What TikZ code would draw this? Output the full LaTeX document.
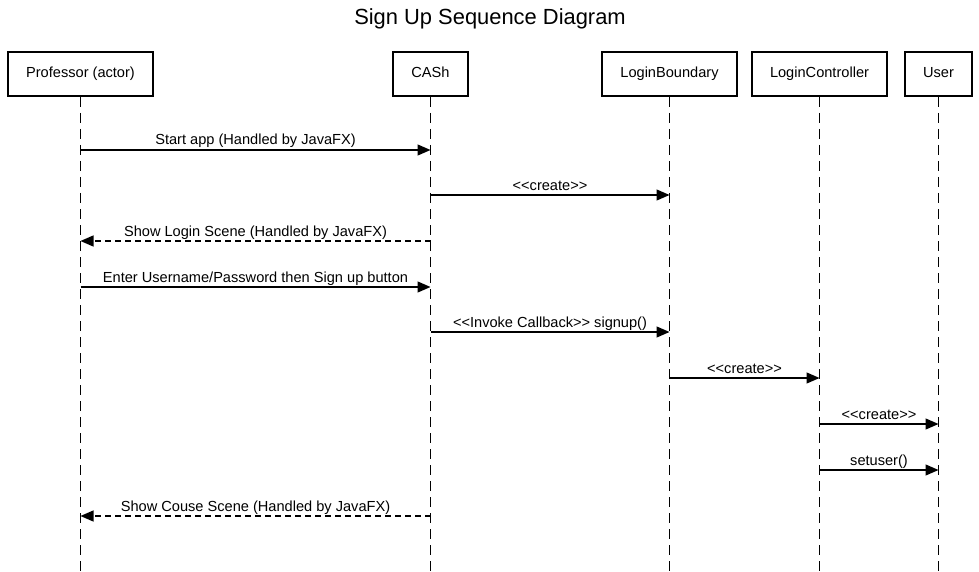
\documentclass[tikz,border=0pt]{standalone}
\usepackage{fontspec}
\setmainfont{Liberation Sans}[Ligatures=TeXOff]
\usepackage{tikz}
\usetikzlibrary{arrows.meta, positioning, calc}
\tikzstyle{actor} = [rectangle, draw=black, line width=2pt, minimum height=44pt, text centered, inner sep=0pt, text height=10.5pt, text depth=2.5pt, font=\fontsize{14.6}{17}\selectfont]
\tikzstyle{lifeline} = [line width=1pt, dash pattern=on 10pt off 6pt]
\tikzstyle{msg} = [line width=1.3pt, -{Triangle[length=13pt, width=11pt]}]
\tikzstyle{reply} = [msg, dash pattern=on 6pt off 4pt]
\tikzstyle{lbl} = [midway, anchor=base, yshift=5pt, inner sep=0pt, font=\fontsize{14.6}{17}\selectfont]

\begin{document}
\begin{tikzpicture}[x=1pt, y=-1pt]
            \useasboundingbox (0,0) rectangle (979,572);

            \node[font=\fontsize{21.9}{26}\selectfont] (title) at (490,18.5) {Sign Up Sequence Diagram};

            \node[actor, minimum width=145pt] (prof) at (80.5,74) {Professor (actor)};
            \node[actor, minimum width=75pt] (cash) at (430.5,74) {CASh};
            \node[actor, minimum width=135pt] (lb) at (669.5,74) {LoginBoundary};
            \node[actor, minimum width=135pt] (lc) at (819.5,74) {LoginController};
            \node[actor, minimum width=67pt] (user) at (938.5,74) {User};

            % lifelines
            \foreach \who in {prof, cash, lb, lc, user} {
                \coordinate (\who-end) at (\who |- 0,572);
                \draw[lifeline] (\who.south) -- (\who-end);
            }

            % messages
            \draw[msg] (prof |- 0,150) -- (cash |- 0,150) node[lbl] {Start app (Handled by JavaFX)};
            \draw[msg] (cash |- 0,195) -- (lb |- 0,195) node[lbl] {<<create>>};
            \draw[reply] (cash |- 0,241) -- (prof |- 0,241) node[lbl] {Show Login Scene (Handled by JavaFX)};
            \draw[msg] (prof |- 0,287) -- (cash |- 0,287) node[lbl] {Enter Username/Password then Sign up button};
            \draw[msg] (cash |- 0,332) -- (lb |- 0,332) node[lbl] {<<Invoke Callback>> signup()};
            \draw[msg] (lb |- 0,378) -- (lc |- 0,378) node[lbl] {<<create>>};
            \draw[msg] (lc |- 0,424) -- (user |- 0,424) node[lbl] {<<create>>};
            \draw[msg] (lc |- 0,470) -- (user |- 0,470) node[lbl] {setuser()};
            \draw[reply] (cash |- 0,516) -- (prof |- 0,516) node[lbl] {Show Couse Scene (Handled by JavaFX)};

        \end{tikzpicture}
\end{document}
